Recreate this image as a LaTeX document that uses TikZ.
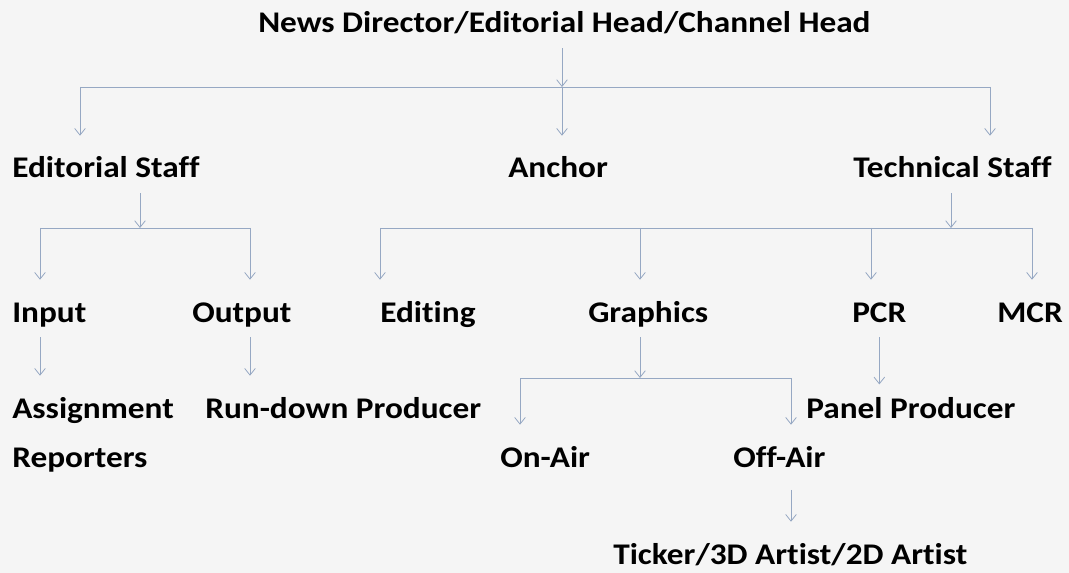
\documentclass[tikz,border=0pt]{standalone}
\usepackage{fontspec}
\setmainfont{Carlito}[FakeStretch=1.11, Ligatures=NoCommon]
\usetikzlibrary{arrows.meta}
\definecolor{bgcol}{RGB}{245,245,245}
\definecolor{linecol}{RGB}{150,168,195}
\tikzstyle{role} = [anchor=base west, inner sep=0pt, text height=31.5pt, text depth=11.25pt, font=\fontsize{22.5}{36.75}\selectfont\bfseries]
\tikzstyle{arrow} = [draw=linecol, line width=0.6pt, -{Straight Barb[length=5pt,width=8pt]}]
\tikzstyle{bus} = [draw=linecol, line width=0.6pt]

\begin{document}
\begin{tikzpicture}[x=0.75pt, y=-0.75pt]
   \useasboundingbox[fill=bgcol] (0,0) rectangle (1069,573);

   % staff
   \node (head) [role] at (258,33) {News Director/Editorial Head/Channel Head};
   \node (edstaff) [role] at (12,178) {Editorial Staff};
   \node (anchor) [role] at (508,178) {Anchor};
   \node (techstaff) [role] at (853,178) {Technical Staff};
   \node (input) [role] at (12,322) {Input};
   \node (output) [role] at (192,322) {Output};
   \node (editing) [role] at (380,322) {Editing};
   \node (graphics) [role] at (588,322) {Graphics};
   \node (pcr) [role] at (852,322) {PCR};
   \node (mcr) [role] at (997,322) {MCR};
   \node (assign) [role, align=left, text height=68.25pt] at (12,467) {Assignment\\Reporters};
   \node (rundown) [role] at (205,418) {Run-down Producer};
   \node (panel) [role, text height=25pt] at (806,418) {Panel Producer};
   \node (onair) [role] at (500,467) {On-Air};
   \node (offair) [role, text depth=17pt] at (733,467) {Off-Air};
   \node (ticker) [role] at (613,564) {Ticker/3D Artist/2D Artist};

   % junctions
   \coordinate (j1) at (562,87);
   \coordinate (j1w) at (80,87);
   \coordinate (j1e) at (990,87);
   \coordinate (j2) at (140,228);
   \coordinate (j2w) at (40,228);
   \coordinate (j2e) at (250,228);
   \coordinate (j3) at (951,228);
   \coordinate (j3w) at (380,228);
   \coordinate (j3g) at (640,228);
   \coordinate (j3p) at (871,228);
   \coordinate (j3e) at (1032,228);
   \coordinate (j4) at (640,378);
   \coordinate (j4w) at (520,378);
   \coordinate (j4e) at (791,378);

   \draw [bus] (j1w) -- (j1e);
   \draw [arrow] (head.south -| j1) -- (j1);
   \draw [arrow] (j1w) -- (j1w |- edstaff.north);
   \draw [arrow] (j1) -- (j1 |- anchor.north);
   \draw [arrow] (j1e) -- (j1e |- techstaff.north);

   \draw [bus] (j2w) -- (j2e);
   \draw [arrow] (edstaff.south -| j2) -- (j2);
   \draw [arrow] (j2w) -- (j2w |- input.north);
   \draw [arrow] (j2e) -- (j2e |- output.north);
   \draw [arrow] (input.south -| j2w) -- (j2w |- assign.north);
   \draw [arrow] (output.south -| j2e) -- (j2e |- rundown.north);

   \draw [bus] (j3w) -- (j3e);
   \draw [arrow] (techstaff.south -| j3) -- (j3);
   \foreach \j/\n in {j3w/editing, j3g/graphics, j3p/pcr, j3e/mcr}
      \draw [arrow] (\j) -- (\j |- \n.north);
   \draw [arrow] (pcr.south) -- (pcr.south |- panel.north);

   \draw [bus] (j4w) -- (j4e);
   \draw [arrow] (graphics.south -| j4) -- (j4);
   \draw [arrow] (j4w) -- (j4w |- onair.north);
   \draw [arrow] (j4e) -- (j4e |- offair.north);
   \draw [arrow] (offair.south -| j4e) -- (j4e |- ticker.north);
\end{tikzpicture}
\end{document}
